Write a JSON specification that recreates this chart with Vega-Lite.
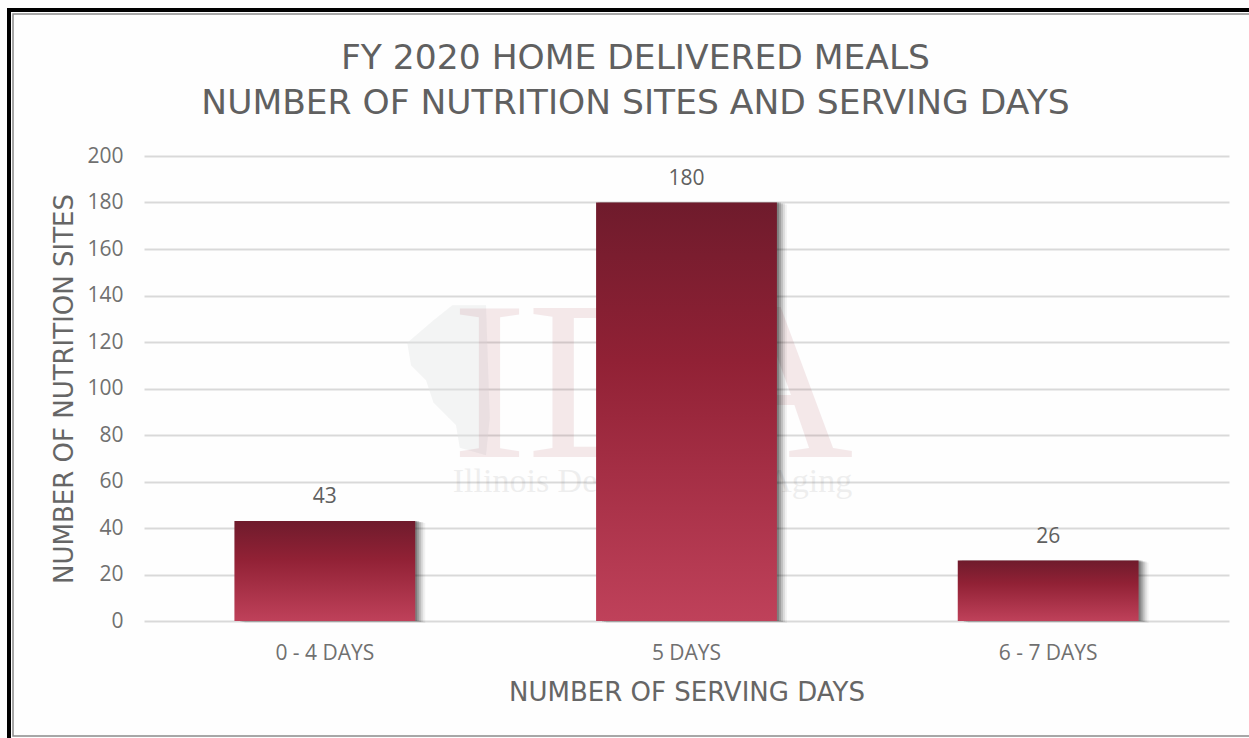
{
"$schema":"https://vega.github.io/schema/vega-lite/v6.json",
"width":1085,"height":465,
"autosize":{"type":"none"},
"padding":{"left":144,"top":156,"right":20,"bottom":117},
"background":"#fefefe",
"config":{"view":{"stroke":null},"font":"Open Sans"},
"title":{"text":["FY 2020 HOME DELIVERED MEALS","NUMBER OF NUTRITION SITES AND SERVING DAYS"],"font":"DejaVu Sans","fontSize":34.5,"fontWeight":"normal","color":"#606060","lineHeight":45,"anchor":"middle","dx":-51,"offset":-113},
"datasets":{"bars":[{"days":"0 - 4 DAYS","sites":43},{"days":"5 DAYS","sites":180},{"days":"6 - 7 DAYS","sites":26}]},
"encoding":{
"x":{"field":"days","type":"nominal","sort":null,"scale":{"domain":["0 - 4 DAYS","5 DAYS","6 - 7 DAYS"],"paddingInner":0.5,"paddingOuter":0.25},
"axis":{"title":"NUMBER OF SERVING DAYS","labelAngle":0,"ticks":false,"domain":false,"grid":false,"labelFont":"Open Sans","labelFontSize":21,"labelColor":"#707070","labelPadding":21,"titleFont":"DejaVu Sans","titleFontSize":26,"titleFontWeight":"normal","titleColor":"#666666","titlePadding":16}},
"y":{"field":"sites","type":"quantitative","scale":{"domain":[0,200],"nice":false},
"axis":{"title":"NUMBER OF NUTRITION SITES","values":[0,20,40,60,80,100,120,140,160,180,200],"ticks":false,"domain":false,"grid":true,"gridColor":"#d9d9d9","gridWidth":2,"labelFont":"Open Sans","labelFontSize":21,"labelColor":"#707070","labelPadding":21,"titleFont":"DejaVu Sans","titleFontSize":26,"titleFontWeight":"normal","titleColor":"#666666","titlePadding":9}}
},
"layer":[
{"data":{"values":[{"item":"frame"}]},"mark":{"type":"rect","fill":null,"stroke":"#000000","strokeWidth":4,"clip":false},"encoding":{"x":{"value":-135},"x2":{"value":1200},"y":{"value":-146},"y2":{"value":620}}},
{"data":{"values":[{"item":"frame"}]},"mark":{"type":"rect","fill":null,"stroke":"#8a8a8a","strokeWidth":1.5,"clip":false},"encoding":{"x":{"value":-131},"x2":{"value":1200},"y":{"value":-142},"y2":{"value":580}}},
{"data":{"values":[{"days":"5 DAYS","sites":103.6,"mark":"state"}]},"mark":{"type":"point","filled":true,"fill":"#e3e6e6","opacity":0.38,"xOffset":-238,"size":22500,"shape":"M 0.05 -1 L 0.5 -1 L 0.55 0.5 L 0.5 1 L 0.15 0.9 L 0.1 0.6 L -0.2 0.3 L -0.3 0 L -0.5 -0.2 L -0.55 -0.5 L -0.2 -0.8 Z"}},
{"data":{"values":[{"days":"5 DAYS","sites":70.5,"label":"IDA"}]},"mark":{"type":"text","font":"Liberation Serif","fontSize":226,"dx":-34,"baseline":"alphabetic","color":"#a03040","opacity":0.1},"encoding":{"text":{"field":"label"}}},
{"data":{"values":[{"days":"5 DAYS","sites":55.5,"label":"Illinois Department on Aging"}]},"mark":{"type":"text","font":"Liberation Serif","fontSize":34,"dx":-34,"baseline":"alphabetic","color":"#808080","opacity":0.12},"encoding":{"text":{"field":"label"}}},
{"data":{"name":"bars"},"mark":{"type":"bar","color":"#000000","opacity":0.05,"xOffset":10,"yOffset":2}},
{"data":{"name":"bars"},"mark":{"type":"bar","color":"#000000","opacity":0.09,"xOffset":8,"yOffset":1}},
{"data":{"name":"bars"},"mark":{"type":"bar","color":"#000000","opacity":0.13,"xOffset":6,"yOffset":1}},
{"data":{"name":"bars"},"mark":{"type":"bar","color":"#000000","opacity":0.17,"xOffset":4,"yOffset":0}},
{"data":{"name":"bars"},"mark":{"type":"bar","color":"#000000","opacity":0.2,"xOffset":2,"yOffset":0}},
{"data":{"name":"bars"},"mark":{"type":"bar","color":{"gradient":"linear","x1":0,"y1":0,"x2":0,"y2":1,"stops":[{"offset":0,"color":"#6f1b2c"},{"offset":0.38,"color":"#912135"},{"offset":1,"color":"#bf415a"}]}}},
{"data":{"name":"bars"},"mark":{"type":"text","font":"Open Sans","fontSize":21,"color":"#606060","baseline":"alphabetic","dy":-18},"encoding":{"text":{"field":"sites","type":"quantitative"}}}
]
}
